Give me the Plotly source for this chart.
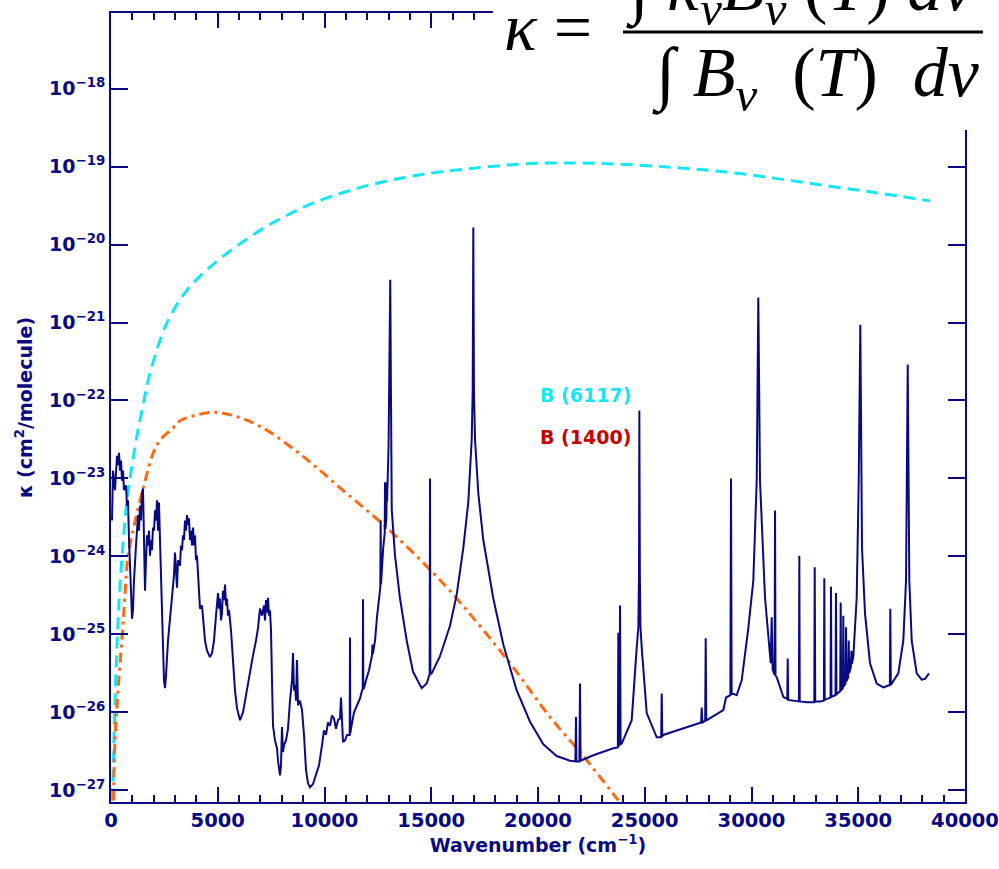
import plotly.graph_objects as go

# ---------------- data (wavenumber in cm^-1, log10 of kappa in cm^2/molecule) -------------
spectrum_points = [
    (47,-23.54),(94,-22.90),(187,-23.15),(281,-22.71),(328,-22.83),(375,-22.67),(422,-22.90),(468,-22.77),
    (515,-23.03),(562,-22.90),(609,-23.15),(703,-23.09),(749,-23.35),(796,-23.28),(843,-23.79),(890,-24.05),
    (937,-24.44),(984,-24.80),(1030,-24.69),(1077,-24.31),(1124,-23.99),(1171,-23.86),(1218,-23.67),(1265,-23.47),
    (1312,-23.67),(1358,-23.35),(1405,-23.54),(1452,-23.18),(1499,-23.13),(1546,-23.79),(1593,-24.44),(1639,-24.05),
    (1686,-23.73),(1733,-23.86),(1780,-23.67),(1827,-23.99),(1874,-23.79),(1920,-23.92),(1967,-23.63),(2014,-23.67),
    (2061,-23.41),(2108,-23.54),(2155,-23.28),(2201,-23.67),(2248,-23.31),(2295,-23.79),(2342,-24.31),(2389,-24.82),
    (2436,-25.21),(2483,-25.59),(2529,-25.69),(2576,-25.53),(2670,-25.08),(2764,-24.76),(2857,-24.56),(2951,-24.24),
    (2998,-23.95),(3045,-24.31),(3091,-24.40),(3138,-24.05),(3232,-24.12),(3279,-23.86),(3326,-23.92),(3372,-23.73),
    (3419,-23.79),(3466,-23.54),(3513,-23.67),(3560,-23.47),(3607,-23.60),(3653,-23.51),(3700,-23.79),(3747,-23.67),
    (3794,-23.86),(3841,-23.63),(3888,-23.86),(3935,-23.73),(3981,-24.05),(4028,-23.99),(4122,-24.56),(4169,-24.67),
    (4262,-24.63),(4309,-24.82),(4403,-25.08),(4497,-25.21),(4637,-25.29),(4731,-25.24),(4824,-25.08),(4918,-24.76),
    (4965,-24.56),(5012,-24.47),(5059,-24.67),(5106,-24.54),(5152,-24.82),(5199,-24.72),(5246,-24.44),(5293,-24.56),
    (5340,-24.36),(5387,-24.63),(5433,-24.54),(5480,-24.76),(5527,-24.69),(5621,-24.95),(5714,-25.33),(5808,-25.72),
    (5902,-25.95),(6042,-26.10),(6183,-26.00),(6323,-25.78),(6511,-25.46),(6651,-25.27),(6792,-25.08),(6885,-24.92),
    (6979,-24.67),(7073,-24.76),(7167,-24.63),(7213,-24.82),(7260,-24.56),(7307,-24.72),(7354,-24.53),(7401,-24.76),
    (7448,-24.69),(7494,-24.95),(7541,-25.59),(7588,-26.17),(7682,-26.36),(7775,-26.46),(7822,-26.62),(7916,-26.81),
    (7963,-26.68),(8009,-26.19),(8056,-26.51),(8103,-26.42),(8197,-26.36),(8291,-26.21),(8384,-25.85),(8478,-25.59),
    (8525,-25.24),(8572,-25.72),(8619,-25.65),(8665,-25.85),(8712,-25.33),(8759,-25.91),(8853,-25.85),(8946,-25.97),
    (9040,-26.29),(9134,-26.74),(9227,-26.91),(9321,-26.96),(9462,-26.92),(9602,-26.81),(9743,-26.68),(9883,-26.42),
    (9977,-26.23),(10071,-26.29),(10164,-26.13),(10258,-26.17),(10352,-26.04),(10445,-26.08),(10539,-26.21),
    (10633,-26.10),(10726,-26.08),(10773,-25.81),(10820,-26.17),(10867,-26.38),(10961,-26.36),(11054,-26.29),
    (11148,-26.29),(11180,-26.29),(11195,-25.04),(11210,-26.27),(11242,-26.21),(11382,-26.00),(11523,-25.91),
    (11663,-25.82),(11757,-25.72),(11790,-25.70),(11804,-24.55),(11818,-25.70),(11851,-25.69),(11944,-25.59),
    (12085,-25.46),(12225,-25.27),(12245,-25.13),(12265,-25.25),(12366,-25.08),(12459,-24.78),(12553,-24.56),
    (12615,-24.39),(12630,-23.54),(12645,-24.36),(12750,-23.89),(12820,-23.70),(12834,-23.05),(12850,-23.65),
    (12900,-23.50),(12913,-23.05),(12930,-23.30),(13000,-22.60),(13040,-21.12),(13080,-20.45),(13110,-21.80),
    (13150,-23.40),(13303,-23.99),(13537,-24.54),(13850,-25.08),(14146,-25.48),(14553,-25.69),(14787,-25.63),
    (14900,-25.53),(14925,-25.52),(14942,-23.00),(14960,-25.51),(15021,-25.50),(15410,-25.28),(15878,-24.89),
    (16192,-24.49),(16502,-23.89),(16736,-23.30),(16895,-22.50),(16942,-21.86),(16970,-19.78),(17000,-21.86),
    (17050,-22.50),(17204,-23.19),(17438,-23.79),(17907,-24.54),(18375,-25.13),(19003,-25.72),(19626,-26.12),
    (20249,-26.41),(20876,-26.56),(21500,-26.62),(21750,-26.63),(21780,-26.06),(21800,-26.63),(21940,-26.63),
    (21967,-25.63),(21995,-26.62),(22591,-26.55),(23528,-26.46),(23740,-26.45),(23762,-24.98),(23790,-26.43),
    (23820,-26.42),(23841,-24.63),(23870,-26.41),(23921,-26.40),(24389,-26.10),(24623,-25.17),(24700,-24.91),
    (24730,-24.22),(24746,-22.13),(24770,-24.22),(24800,-24.91),(24858,-25.17),(25092,-26.01),(25561,-26.32),
    (25770,-26.32),(25795,-25.76),(25820,-26.31),(25869,-26.29),(27589,-26.14),(27640,-26.13),(27668,-25.94),
    (27700,-26.13),(27830,-26.11),(27855,-25.05),(27880,-26.10),(27902,-26.10),(28680,-25.97),(28807,-25.81),
    (29010,-25.78),(29040,-23.00),(29070,-25.77),(29120,-25.76),(29307,-25.78),(29541,-25.59),(29851,-24.92),
    (30085,-24.31),(30244,-23.03),(30319,-20.68),(30398,-23.03),(30633,-24.53),(30900,-25.37),(30946,-24.78),
    (30990,-25.45),(31080,-25.52),(31102,-23.41),(31125,-25.53),(31180,-25.55),(31490,-25.80),(31675,-25.83),
    (31697,-25.31),(31720,-25.84),(31959,-25.85),(32220,-25.86),(32240,-23.99),(32260,-25.86),(32585,-25.87),
    (32940,-25.87),(32961,-24.14),(32985,-25.86),(33210,-25.86),(33390,-25.85),(33411,-24.28),(33430,-25.84),
    (33604,-25.82),(33700,-25.81),(33724,-24.39),(33745,-25.80),(33832,-25.79),(33935,-25.78),(33958,-24.47),
    (33980,-25.77),(34066,-25.75),(34155,-25.73),(34178,-24.59),(34200,-25.72),(34280,-25.69),(34300,-24.76),
    (34320,-25.67),(34405,-25.63),(34427,-24.91),(34450,-25.60),(34530,-25.55),(34553,-25.08),(34575,-25.50),
    (34655,-25.42),(34678,-25.21),(34700,-25.38),(34769,-25.29),(34927,-24.53),(35022,-23.03),(35097,-21.03),
    (35176,-23.89),(35316,-24.73),(35550,-25.37),(35865,-25.63),(36174,-25.68),(36455,-25.65),(36480,-25.65),
    (36502,-24.67),(36525,-25.65),(36876,-25.50),(37111,-25.08),(37238,-24.31),(37317,-21.54),(37392,-24.31),
    (37504,-25.08),(37738,-25.50),(37973,-25.58),(38128,-25.57),(38313,-25.50),
]

planck_6117_wn = [61, 94, 187, 304, 422, 586, 749, 890, 1204, 1499, 1827, 2609, 3546, 4637, 6042, 7588,
                  9462, 11663, 14145, 16675, 19766, 22904, 26323, 29462, 32600, 35692, 38360]
planck_6117_logk = [-27.13, -26.87, -25.85, -24.99, -24.37, -23.76, -23.28, -23.00, -22.47, -22.06, -21.65,
                    -21.01, -20.59, -20.29, -19.99, -19.72, -19.47, -19.27, -19.12, -19.03, -18.96, -18.96,
                    -19.01, -19.09, -19.21, -19.33, -19.44]

planck_1400_wn = [117, 187, 342, 576, 796, 984, 1358, 1513, 1967, 2295, 2918, 3232, 3700, 4792, 6042, 7293,
                  8539, 9635, 10726, 11818, 12913, 14942, 16192, 18689, 20563, 22122, 23762]
planck_1400_logk = [-27.13, -26.36, -25.68, -24.82, -24.00, -23.73, -23.28, -23.12, -22.68, -22.51, -22.35,
                    -22.26, -22.21, -22.15, -22.22, -22.38, -22.62, -22.86, -23.12, -23.37, -23.63, -24.17,
                    -24.54, -25.37, -26.06, -26.56, -27.13]

x_tick_vals = [0, 5000, 10000, 15000, 20000, 25000, 30000, 35000, 40000]
y_tick_exps = [-27, -26, -25, -24, -23, -22, -21, -20, -19, -18]

legend_labels = ["B (6117)", "B (1400)"]

# ---------------- styling ----------------
NAVY = "#0a0a80"
CYAN = "#14e6f4"
ORANGE = "#ff6a14"
DARKRED = "#c40000"
W, H = 999, 869
ML, MR, MT, MB = 111, 34, 13, 67
PW, PH = W - ML - MR, H - MT - MB


def px(x):
    return (x - ML) / PW


def py(y):
    return (H - MB - y) / PH


spec_wn = [p[0] for p in spectrum_points]
spec_k = [10 ** p[1] for p in spectrum_points]

fig = go.Figure()
fig.add_trace(go.Scatter(x=planck_6117_wn, y=[10 ** v for v in planck_6117_logk], mode="lines",
                         line=dict(color=CYAN, width=3, dash="12px,7px", shape="spline"),
                         showlegend=False, hoverinfo="skip"))
fig.add_trace(go.Scatter(x=planck_1400_wn, y=[10 ** v for v in planck_1400_logk], mode="lines",
                         line=dict(color=ORANGE, width=3, dash="10px,5px,3px,5px", shape="spline"),
                         showlegend=False, hoverinfo="skip"))
fig.add_trace(go.Scatter(x=spec_wn, y=spec_k, mode="lines",
                         line=dict(color=NAVY, width=2), showlegend=False, hoverinfo="skip"))

fig.update_xaxes(range=[0, 40000], tickvals=x_tick_vals, ticktext=[str(v) for v in x_tick_vals],
                 ticks="inside", ticklen=15, tickwidth=2, tickcolor=NAVY, automargin=False,
                 ticklabeloverflow="allow",
                 minor=dict(dtick=1000, ticks="inside", ticklen=7, tickwidth=2, tickcolor=NAVY),
                 showline=True, linecolor=NAVY, linewidth=2, mirror="ticks", showgrid=False,
                 zeroline=False,
                 tickfont=dict(family="DejaVu Sans", size=19.5, color=NAVY, weight="bold"),
                 title=dict(text="Wavenumber (cm<sup>−1</sup>)", standoff=2,
                            font=dict(family="DejaVu Sans", size=19, color=NAVY, weight="bold")))
fig.update_yaxes(type="log", range=[-27.15, -17.03], tickvals=[10 ** e for e in y_tick_exps],
                 ticktext=["10<sup>−%d</sup>" % (-e) for e in y_tick_exps], automargin=False,
                 ticks="inside", ticklen=17, tickwidth=2, tickcolor=NAVY,
                 showline=True, linecolor=NAVY, linewidth=2, mirror="ticks", showgrid=False,
                 zeroline=False,
                 tickfont=dict(family="DejaVu Sans", size=19, color=NAVY, weight="bold"),
                 title=dict(text="κ (cm<sup>2</sup>/molecule)", standoff=11,
                            font=dict(family="DejaVu Sans", size=19, color=NAVY, weight="bold")))

shapes = [
    dict(type="rect", xref="paper", yref="paper", x0=px(493), x1=px(W + 5), y0=py(130), y1=py(-5),
         fillcolor="white", line=dict(width=0), layer="above"),
    dict(type="line", xref="paper", yref="paper", x0=px(623), x1=px(983), y0=py(32), y1=py(32),
         line=dict(color="black", width=3), layer="above"),
]

serif = "Liberation Serif"
annotations = [
    dict(x=px(538), y=py(395), xref="paper", yref="paper", text=legend_labels[0], showarrow=False,
         xanchor="left", yanchor="middle",
         font=dict(family="DejaVu Sans", size=19, color=CYAN, weight="bold")),
    dict(x=px(538), y=py(437), xref="paper", yref="paper", text=legend_labels[1], showarrow=False,
         xanchor="left", yanchor="middle",
         font=dict(family="DejaVu Sans", size=19, color=DARKRED, weight="bold")),
    dict(x=px(502), y=py(27), xref="paper", yref="paper", text="<i>κ</i> =", showarrow=False,
         xanchor="left", yanchor="middle", font=dict(family=serif, size=68, color="black")),
    dict(x=px(624), y=py(-8), xref="paper", yref="paper",
         text="∫ <i>κ<sub>ν</sub>B<sub>ν</sub></i> (<i>T</i>) <i>dν</i>", showarrow=False,
         xanchor="left", yanchor="middle", font=dict(family=serif, size=70, color="black")),
    dict(x=px(650), y=py(78), xref="paper", yref="paper",
         text="∫ <i>B<sub>ν</sub></i>\u2002(<i>T</i>)\u2002<i>dν</i>", showarrow=False,
         xanchor="left", yanchor="middle", font=dict(family=serif, size=70, color="black")),
]

fig.update_layout(width=W, height=H, margin=dict(l=ML, r=MR, t=MT, b=MB),
                  paper_bgcolor="white", plot_bgcolor="white",
                  shapes=shapes, annotations=annotations)

fig.write_html("out.html")
